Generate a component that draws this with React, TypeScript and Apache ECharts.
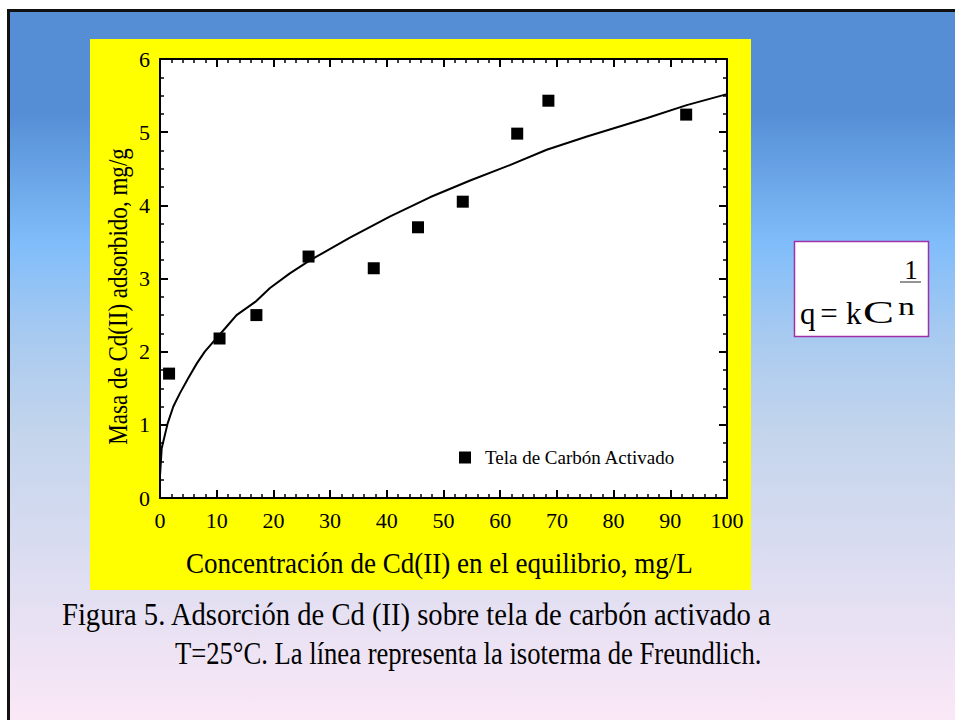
import React, { useEffect, useRef } from 'react';
import * as echarts from 'echarts';

// Data
const concentration = [1.6, 10.5, 17.0, 26.2, 37.7, 45.5, 53.4, 63.0, 68.5, 92.8];
const adsorbed = [1.70, 2.18, 2.50, 3.30, 3.14, 3.70, 4.05, 4.98, 5.43, 5.24];

// Freundlich isotherm line
const fitC = [0, 0.3, 1.35, 2.35, 3.5, 5.0, 6.5, 7.9, 9.7, 11.5, 13.5, 16.8, 19.4, 22.9, 26.5, 33.5, 40.6, 47.6, 54.7, 61.7, 68.2, 75.3, 85.8, 92.9, 100];
const fitQ = [0.3, 0.68, 1.02, 1.25, 1.43, 1.64, 1.84, 2.0, 2.16, 2.32, 2.5, 2.68, 2.87, 3.07, 3.25, 3.56, 3.85, 4.11, 4.34, 4.55, 4.76, 4.94, 5.19, 5.37, 5.52];

const xLabel = 'Concentración de Cd(II) en el equilibrio, mg/L';
const yLabel = 'Masa de Cd(II) adsorbido, mg/g';
const legendLabel = 'Tela de Carbón Activado';
const caption1 = 'Figura 5. Adsorción de Cd (II) sobre tela de carbón activado a';
const caption2 = 'T=25°C. La línea representa la isoterma de Freundlich.';

const SERIF = '"Liberation Serif", "Times New Roman", serif';

function textWidth(t: string, size: number) {
  const ctx = document.createElement('canvas').getContext('2d');
  if (!ctx) return t.length * size * 0.45;
  ctx.font = `${size}px "Liberation Serif"`;
  return ctx.measureText(t).width;
}

function fitText(text: string, size: number, left: number, right: number, midY: number, rotation = 0, centerX?: number) {
  const s = (right - left) / textWidth(text, size);
  return {
    type: 'text',
    x: centerX !== undefined ? centerX : left,
    y: midY,
    scaleX: s,
    rotation,
    style: {
      text,
      fontSize: size,
      fontFamily: SERIF,
      fill: '#000',
      textAlign: centerX !== undefined ? 'center' : 'left',
      textVerticalAlign: 'middle',
      align: centerX !== undefined ? 'center' : 'left',
      verticalAlign: 'middle',
    },
  };
}

function plainText(text: string, size: number, x: number, y: number, align: string, scaleX = 1) {
  return {
    type: 'text',
    x,
    y,
    scaleX,
    style: {
      text,
      fontSize: size,
      fontFamily: SERIF,
      fill: '#000',
      textAlign: align,
      textVerticalAlign: 'middle',
      align,
      verticalAlign: 'middle',
    },
  };
}

export default function App() {
  const ref = useRef<HTMLDivElement>(null);

  useEffect(() => {
    if (!ref.current) return;
    const chart = echarts.init(ref.current, undefined, { renderer: 'svg' });

    const axisCommon = {
      type: 'value',
      axisLine: { show: true, onZero: false, lineStyle: { color: '#000', width: 2 } },
      splitLine: { show: false },
    };

    const scatterData = concentration.map((c, i) => [c, adsorbed[i]]);
    const lineData = fitC.map((c, i) => [c, fitQ[i]]);

    const tick = { show: true, inside: true, length: 8, lineStyle: { color: '#000', width: 2 } };

    chart.setOption({
      animation: false,
      backgroundColor: 'transparent',
      grid: {
        left: 160,
        right: 228,
        top: 59,
        bottom: 222,
        show: true,
        backgroundColor: '#ffffff',
        borderWidth: 0,
      },
      legend: {
        show: true,
        data: [legendLabel],
        left: 459,
        top: 448,
        padding: 0,
        icon: 'rect',
        itemWidth: 12,
        itemHeight: 12,
        itemStyle: { color: '#000', opacity: 1 },
        textStyle: { fontSize: 19, fontFamily: SERIF, color: '#000', padding: [0, 0, 0, 9] },
      },
      xAxis: [
        {
          ...axisCommon,
          position: 'bottom',
          min: 0,
          max: 100,
          interval: 10,
          axisTick: tick,
          minorTick: { show: true, splitNumber: 5, length: 4, lineStyle: { color: '#000', width: 1.5 } },
          axisLabel: { show: true, fontSize: 22, fontFamily: SERIF, color: '#000', margin: 11 },
        },
        {
          ...axisCommon,
          position: 'top',
          min: 0,
          max: 100,
          interval: 10,
          axisTick: tick,
          minorTick: { show: true, splitNumber: 5, length: 4, lineStyle: { color: '#000', width: 1.5 } },
          axisLabel: { show: false },
        },
      ],
      yAxis: [
        {
          ...axisCommon,
          position: 'left',
          min: 0,
          max: 6,
          interval: 1,
          axisTick: tick,
          minorTick: { show: true, splitNumber: 4, length: 4, lineStyle: { color: '#000', width: 1.5 } },
          axisLabel: { show: true, fontSize: 22, fontFamily: SERIF, color: '#000', margin: 10 },
        },
        {
          ...axisCommon,
          position: 'right',
          min: 0,
          max: 6,
          interval: 1,
          axisTick: tick,
          minorTick: { show: true, splitNumber: 4, length: 4, lineStyle: { color: '#000', width: 1.5 } },
          axisLabel: { show: false },
        },
      ],
      series: [
        {
          name: 'Isoterma de Freundlich',
          type: 'line',
          xAxisIndex: 0,
          yAxisIndex: 0,
          data: lineData,
          smooth: false,
          showSymbol: false,
          symbol: 'none',
          lineStyle: { color: '#000', width: 2 },
          z: 2,
        },
        {
          name: legendLabel,
          type: 'scatter',
          xAxisIndex: 0,
          yAxisIndex: 0,
          data: scatterData,
          symbol: 'rect',
          symbolSize: 12,
          itemStyle: { color: '#000', opacity: 1 },
          z: 3,
        },
      ],
      graphic: [
        {
          type: 'rect',
          z: -20,
          silent: true,
          shape: { x: 7, y: 9, width: 948, height: 711 },
          style: {
            fill: {
              type: 'linear',
              x: 0,
              y: 0,
              x2: 0,
              y2: 1,
              colorStops: [
                { offset: 0, color: '#558ED5' },
                { offset: 0.146, color: '#558ED5' },
                { offset: 0.33, color: '#80BDFA' },
                { offset: 0.46, color: '#A8CAF0' },
                { offset: 0.6, color: '#C4D5EC' },
                { offset: 0.78, color: '#DCDDF1' },
                { offset: 1, color: '#FBE8F6' },
              ],
            },
          },
        },
        {
          type: 'line',
          z: -15,
          silent: true,
          shape: { x1: 7, y1: 10.5, x2: 955, y2: 10.5 },
          style: { stroke: '#111', lineWidth: 3 },
        },
        {
          type: 'line',
          z: -15,
          silent: true,
          shape: { x1: 8.5, y1: 9, x2: 8.5, y2: 720 },
          style: { stroke: '#111', lineWidth: 3 },
        },
        {
          type: 'rect',
          z: -10,
          silent: true,
          shape: { x: 90, y: 39, width: 661, height: 551 },
          style: { fill: '#FFFF00' },
        },
        fitText(xLabel, 29, 185.7, 693, 563, 0, 439.4),
        fitText(yLabel, 27, 148, 445, 296.5, Math.PI / 2, 117.8),
        fitText(caption1, 31, 62, 772, 614.5),
        fitText(caption2, 31, 175, 762, 653.5),
        {
          type: 'rect',
          shape: { x: 794.5, y: 241.5, width: 134, height: 95 },
          style: { fill: '#ffffff', stroke: '#A030A8', lineWidth: 1.5 },
        },
        plainText('q', 31, 800, 313, 'left'),
        plainText('=', 31, 829, 313, 'center'),
        plainText('k', 31, 846, 313, 'left'),
        plainText('C', 31, 863, 313, 'left', 1.5),
        plainText('n', 25, 898, 307, 'left', 1.35),
        plainText('1', 27, 911, 270, 'center'),
        {
          type: 'line',
          shape: { x1: 900, y1: 282, x2: 921, y2: 282 },
          style: { stroke: '#707070', lineWidth: 1.5 },
        },
      ],
    });

    return () => {
      chart.dispose();
    };
  }, []);

  return (
    <div style={{ position: 'absolute', left: 0, top: 0, width: 955, height: 720, background: '#ffffff' }}>
      <div ref={ref} style={{ width: 955, height: 720 }} />
    </div>
  );
}
